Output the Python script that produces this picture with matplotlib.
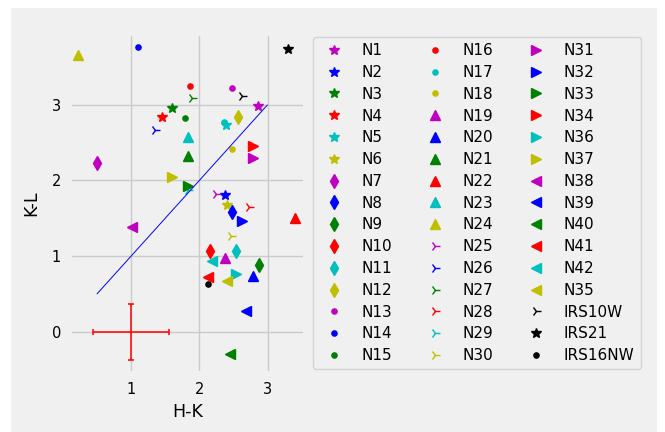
import numpy as np
import matplotlib
matplotlib.use('Agg')
import matplotlib.pyplot as plt
from matplotlib.patches import Rectangle

# colour-colour data: H-K vs K-L for each source
names = ['N1', 'N2', 'N3', 'N4', 'N5', 'N6',
         'N7', 'N8', 'N9', 'N10', 'N11', 'N12',
         'N13', 'N14', 'N15', 'N16', 'N17', 'N18',
         'N19', 'N20', 'N21', 'N22', 'N23', 'N24',
         'N25', 'N26', 'N27', 'N28', 'N29', 'N30',
         'N31', 'N32', 'N33', 'N34', 'N36', 'N37',
         'N38', 'N39', 'N40', 'N41', 'N42', 'N35',
         'IRS10W', 'IRS21', 'IRS16NW']
hk = [2.86, 2.37, 1.60, 1.46, 2.39, 2.40,
      0.50, 2.48, 2.87, 2.15, 2.53, 2.57,
      2.48, 1.11, 1.79, 1.86, 2.36, 2.48,
      2.37, 2.78, 1.83, 3.40, 1.83, 0.22,
      2.24, 1.35, 1.90, 2.73, 1.83, 2.47,
      2.79, 2.63, 1.83, 2.78, 2.54, 1.60,
      1.01, 2.68, 2.45, 2.12, 2.19, 2.40,
      2.63, 3.30, 2.13]
kl = [2.98, 1.81, 2.96, 2.84, 2.73, 1.68,
      2.23, 1.58, 0.88, 1.07, 1.07, 2.84,
      3.22, 3.76, 2.83, 3.25, 2.77, 2.42,
      0.98, 0.74, 2.32, 1.51, 2.58, 3.65,
      1.82, 2.66, 3.09, 1.65, 1.87, 1.27,
      2.29, 1.47, 1.93, 2.46, 0.77, 2.04,
      1.38, 0.28, -0.29, 0.73, 0.94, 0.67,
      3.12, 3.74, 0.63]

# reddening vector and typical error bar
vec_x = [0.5, 3.0]
vec_y = [0.5, 3.0]
err_x, err_y = 1.0, 0.0
err_hk, err_kl = 0.55, 0.375

# marker shape per group of six, colour cycles inside each group
shapes = ['*'] * 6 + ['d'] * 6 + ['.'] * 6 + ['^'] * 6 + ['4'] * 6 + ['>'] * 6 + ['<'] * 6 + ['4', '*', '.']
colours = ['m', 'b', 'g', 'r', 'c', 'y'] * 7 + ['k', 'k', 'k']

plt.style.use('fivethirtyeight')
fig = plt.figure(figsize=(6.65, 4.32), dpi=100, facecolor='white')
fig.patches.append(Rectangle((11 / 665, 0), 646 / 665, 424 / 432, transform=fig.transFigure,
                             facecolor='#f0f0f0', edgecolor='none', zorder=-10))
ax = fig.add_axes([0.1053, 0.1366, 0.3533, 0.7847])

for n, x, y, m, c in zip(names, hk, kl, shapes, colours):
    ax.plot(x, y, linestyle='none', marker=m, color=c, markersize=7.5,
            markeredgewidth=1.0, label=n)

ax.plot(vec_x, vec_y, color='b', linewidth=0.7)
ax.errorbar(err_x, err_y, xerr=err_hk, yerr=err_kl, fmt='none', ecolor='r',
            elinewidth=1.1, capsize=2.5, capthick=1.1)

ax.set_xlim(0.108, 3.546)
ax.set_ylim(-0.541, 3.933)
ax.set_xticks([1, 2, 3])
ax.set_yticks([0, 1, 2, 3])
ax.tick_params(labelsize=10.5, pad=6.5)
ax.set_xlabel('H-K', fontsize=12.5, labelpad=4)
ax.set_ylabel('K-L', fontsize=12.5, labelpad=8)

leg = ax.legend(ncol=3, loc='upper left', bbox_to_anchor=(313 / 665, 1 - 37 / 432),
                bbox_transform=fig.transFigure, borderaxespad=0, fontsize=11,
                frameon=True, fancybox=True, labelspacing=0.445, columnspacing=1.8)
leg.get_frame().set_facecolor('#f0f0f0')
leg.get_frame().set_edgecolor('#cccccc')
leg.get_frame().set_linewidth(1.0)

fig.savefig('out.png', dpi=100, facecolor=fig.get_facecolor())
